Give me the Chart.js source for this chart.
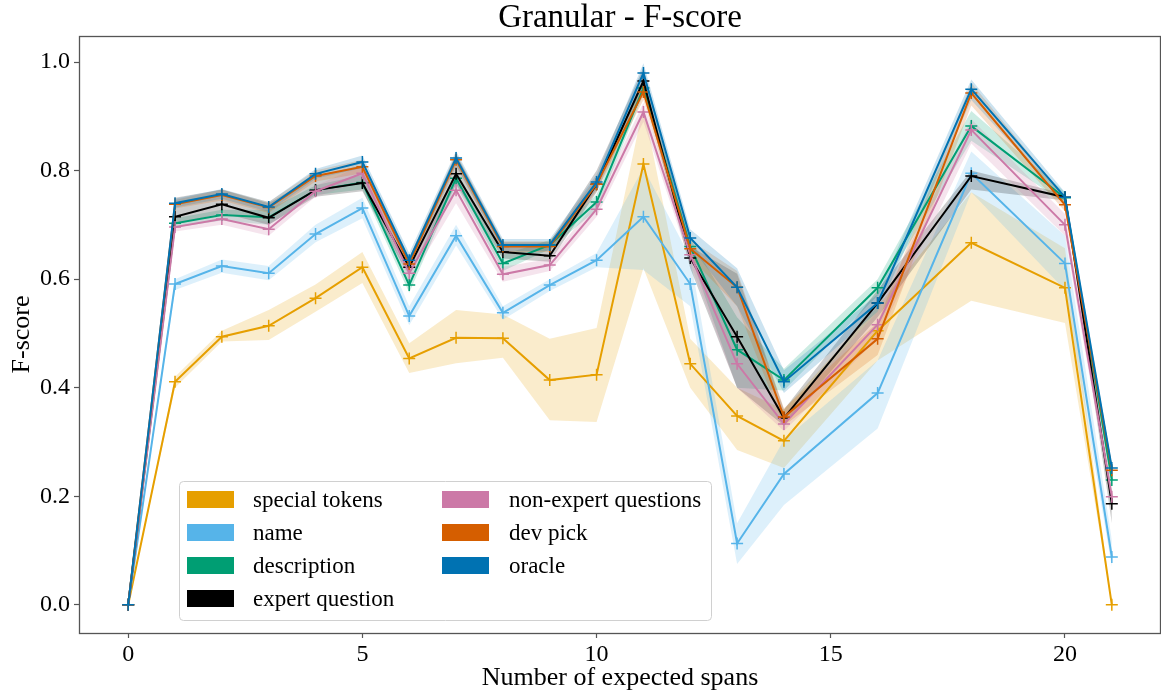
<!DOCTYPE html>
<html>
<head>
<meta charset="utf-8">
<script src="https://cdn.jsdelivr.net/npm/chart.js@4/dist/chart.umd.min.js"></script>
<style>
  html, body { margin: 0; padding: 0; background: #fff; }
  #wrap { width: 1161px; height: 695px; }
</style>
</head>
<body>
<div id="wrap"><canvas id="chart" width="1161" height="695"></canvas></div>
<script>
// x positions (number of expected spans)
const spans = [0, 1, 2, 3, 4, 5, 6, 7, 8, 9, 10, 11, 12, 13, 14, 16, 18, 20, 21];
const xTicks = [0, 5, 10, 15, 20];
const yTicks = [0, 0.2, 0.4, 0.6, 0.8, 1.0];

const seriesNames = ['special tokens', 'name', 'description', 'expert question', 'non-expert questions', 'dev pick', 'oracle'];
const seriesColors = ['#E69F00', '#56B4E9', '#009E73', '#000000', '#CC79A7', '#D55E00', '#0072B2'];

const specialTokens = [0, 0.411, 0.494, 0.514, 0.565, 0.622, 0.454, 0.492, 0.491, 0.414, 0.424, 0.812, 0.444, 0.348, 0.302, 0.505, 0.667, 0.584, 0.0];
const specialTokensLow = [0, 0.400, 0.485, 0.488, 0.540, 0.593, 0.427, 0.445, 0.455, 0.340, 0.337, 0.620, 0.400, 0.285, 0.252, 0.450, 0.560, 0.519, 0];
const specialTokensHigh = [0, 0.420, 0.505, 0.543, 0.590, 0.650, 0.482, 0.543, 0.535, 0.490, 0.510, 0.920, 0.490, 0.400, 0.360, 0.550, 0.760, 0.657, 0];

const nameScore = [0, 0.591, 0.624, 0.611, 0.683, 0.731, 0.532, 0.680, 0.538, 0.589, 0.635, 0.715, 0.591, 0.113, 0.241, 0.390, 0.795, 0.629, 0.088];
const nameLow = [0, 0.580, 0.612, 0.598, 0.668, 0.712, 0.515, 0.662, 0.525, 0.578, 0.622, 0.617, 0.550, 0.075, 0.184, 0.325, 0.760, 0.580, 0.070];
const nameHigh = [0, 0.600, 0.636, 0.624, 0.700, 0.750, 0.550, 0.700, 0.550, 0.600, 0.648, 0.805, 0.640, 0.150, 0.304, 0.450, 0.835, 0.680, 0.120];

const description = [0, 0.703, 0.718, 0.714, 0.764, 0.778, 0.589, 0.786, 0.629, 0.663, 0.742, 0.952, 0.660, 0.470, 0.414, 0.584, 0.882, 0.750, 0.230];
const descriptionLow = [0, 0.695, 0.708, 0.700, 0.755, 0.765, 0.575, 0.772, 0.615, 0.655, 0.728, 0.940, 0.645, 0.400, 0.395, 0.570, 0.855, 0.740, 0.215];
const descriptionHigh = [0, 0.712, 0.728, 0.728, 0.773, 0.792, 0.603, 0.800, 0.645, 0.672, 0.756, 0.964, 0.675, 0.530, 0.435, 0.600, 0.910, 0.760, 0.245];

const expertQuestion = [0, 0.715, 0.738, 0.713, 0.764, 0.777, 0.622, 0.794, 0.650, 0.643, 0.775, 0.965, 0.639, 0.494, 0.344, 0.556, 0.790, 0.751, 0.186];
const expertQuestionLow = [0, 0.700, 0.722, 0.700, 0.752, 0.762, 0.605, 0.775, 0.638, 0.632, 0.760, 0.950, 0.620, 0.400, 0.330, 0.530, 0.765, 0.745, 0.150];
const expertQuestionHigh = [0, 0.750, 0.765, 0.740, 0.790, 0.810, 0.640, 0.830, 0.668, 0.668, 0.800, 0.990, 0.660, 0.610, 0.360, 0.580, 0.800, 0.757, 0.210];

const nonExpert = [0, 0.696, 0.711, 0.692, 0.762, 0.795, 0.611, 0.764, 0.609, 0.626, 0.729, 0.908, 0.645, 0.444, 0.333, 0.516, 0.875, 0.700, 0.199];
const nonExpertLow = [0, 0.688, 0.700, 0.680, 0.752, 0.780, 0.595, 0.740, 0.595, 0.615, 0.715, 0.890, 0.630, 0.400, 0.320, 0.490, 0.850, 0.680, 0.185];
const nonExpertHigh = [0, 0.705, 0.722, 0.705, 0.772, 0.810, 0.627, 0.785, 0.623, 0.637, 0.743, 0.925, 0.660, 0.490, 0.350, 0.540, 0.895, 0.720, 0.213];

const devPick = [0, 0.738, 0.755, 0.732, 0.790, 0.807, 0.628, 0.820, 0.660, 0.660, 0.775, 0.945, 0.656, 0.585, 0.346, 0.490, 0.943, 0.737, 0.248];
const devPickLow = [0, 0.730, 0.745, 0.722, 0.780, 0.795, 0.615, 0.808, 0.650, 0.650, 0.762, 0.930, 0.640, 0.550, 0.330, 0.460, 0.920, 0.725, 0.238];
const devPickHigh = [0, 0.746, 0.765, 0.742, 0.800, 0.820, 0.640, 0.832, 0.670, 0.670, 0.788, 0.960, 0.672, 0.615, 0.362, 0.520, 0.962, 0.750, 0.256];

const oracle = [0, 0.740, 0.757, 0.733, 0.794, 0.816, 0.635, 0.823, 0.663, 0.663, 0.779, 0.980, 0.676, 0.585, 0.411, 0.556, 0.950, 0.751, 0.252];
const oracleLow = [0, 0.732, 0.748, 0.724, 0.785, 0.805, 0.622, 0.810, 0.652, 0.652, 0.765, 0.960, 0.660, 0.550, 0.390, 0.540, 0.930, 0.742, 0.245];
const oracleHigh = [0, 0.748, 0.766, 0.742, 0.803, 0.828, 0.648, 0.836, 0.674, 0.674, 0.793, 0.998, 0.692, 0.620, 0.432, 0.572, 0.968, 0.760, 0.260];

const means = [specialTokens, nameScore, description, expertQuestion, nonExpert, devPick, oracle];
const lows = [specialTokensLow, nameLow, descriptionLow, expertQuestionLow, nonExpertLow, devPickLow, oracleLow];
const highs = [specialTokensHigh, nameHigh, descriptionHigh, expertQuestionHigh, nonExpertHigh, devPickHigh, oracleHigh];

const FONT = "'Liberation Serif', 'DejaVu Serif', serif";

function toPoints(vals) {
  return vals.map((v, i) => ({ x: spans[i], y: v }));
}

function hexAlpha(hex, a) {
  const n = parseInt(hex.slice(1), 16);
  return `rgba(${(n >> 16) & 255}, ${(n >> 8) & 255}, ${n & 255}, ${a})`;
}

// bands first (upper filled down to lower), then the lines
const datasets = [];
seriesNames.forEach((name, i) => {
  datasets.push({
    label: name + ' high',
    data: toPoints(highs[i]),
    borderWidth: 0,
    pointRadius: 0,
    backgroundColor: hexAlpha(seriesColors[i], 0.2),
    fill: '+1',
    order: 100 + (6 - i)
  });
  datasets.push({
    label: name + ' low',
    data: toPoints(lows[i]),
    borderWidth: 0,
    pointRadius: 0,
    fill: false,
    order: 100 + (6 - i)
  });
});
seriesNames.forEach((name, i) => {
  datasets.push({
    label: name,
    data: toPoints(means[i]),
    borderColor: seriesColors[i],
    backgroundColor: seriesColors[i],
    borderWidth: 2,
    pointStyle: 'cross',
    pointRadius: 6,
    pointBorderWidth: 1.5,
    pointBorderColor: seriesColors[i],
    fill: false,
    order: 6 - i
  });
});

// box around the axes + title centred over the plot area (like matplotlib)
const framePlugin = {
  id: 'frame',
  afterDraw(chart) {
    const a = chart.chartArea;
    const ctx = chart.ctx;
    ctx.save();
    ctx.strokeStyle = '#555';
    ctx.lineWidth = 1.3;
    ctx.strokeRect(a.left + 0.5, a.top + 0.5, a.right - a.left - 1, a.bottom - a.top);
    ctx.fillStyle = '#000';
    ctx.font = '33px ' + FONT;
    ctx.textAlign = 'center';
    ctx.textBaseline = 'middle';
    ctx.fillText('Granular - F-score', (a.left + a.right) / 2, 18);
    ctx.restore();
  }
};

const legendPlugin = {
  id: 'boxLegend',
  afterDraw(chart) {
    const ctx = chart.ctx;
    const box = { x: 179, y: 481, w: 532, h: 139 };
    ctx.save();
    ctx.fillStyle = 'rgba(255,255,255,0.85)';
    ctx.strokeStyle = '#d0d0d0';
    ctx.lineWidth = 1;
    ctx.beginPath();
    ctx.roundRect(box.x + 0.5, box.y + 0.5, box.w, box.h, 4);
    ctx.fill();
    ctx.stroke();
    ctx.font = '23px ' + FONT;
    ctx.textBaseline = 'middle';
    const cols = [{ px: 187, tx: 253 }, { px: 442, tx: 509 }];
    seriesNames.forEach((name, i) => {
      const col = i < 4 ? 0 : 1;
      const row = i < 4 ? i : i - 4;
      const cy = 499.5 + row * 33;
      ctx.fillStyle = seriesColors[i];
      ctx.fillRect(cols[col].px, cy - 8.5, 47, 17);
      ctx.fillStyle = '#000';
      ctx.fillText(name, cols[col].tx, cy + 1);
    });
    ctx.restore();
  }
};

new Chart(document.getElementById('chart'), {
  type: 'line',
  data: { datasets },
  options: {
    responsive: false,
    animation: false,
    layout: { padding: { top: 36, left: 0, right: 0, bottom: 0 }, autoPadding: false },
    plugins: {
      legend: { display: false },
      tooltip: { enabled: false },
      filler: { propagate: false },
      title: { display: false }
    },
    scales: {
      x: {
        type: 'linear',
        min: -1.05,
        max: 22.05,
        afterBuildTicks: scale => { scale.ticks = xTicks.map(v => ({ value: v })); },
        afterFit: scale => { scale.height = 62; },
        grid: { drawOnChartArea: false, drawTicks: true, tickLength: 5, color: '#555', tickWidth: 1.2 },
        border: { display: false },
        ticks: { color: '#000', font: { family: FONT, size: 24 }, padding: 2, maxRotation: 0 },
        title: {
          display: true,
          text: 'Number of expected spans',
          color: '#000',
          font: { family: FONT, size: 26 },
          padding: { top: 0, bottom: 1 }
        }
      },
      y: {
        min: -0.052,
        max: 1.048,
        afterBuildTicks: scale => { scale.ticks = yTicks.map(v => ({ value: v })); },
        afterFit: scale => { scale.width = 79; },
        grid: { drawOnChartArea: false, drawTicks: true, tickLength: 5, color: '#555', tickWidth: 1.2 },
        border: { display: false },
        ticks: {
          color: '#000',
          font: { family: FONT, size: 24 },
          padding: 4,
          callback: v => v.toFixed(1)
        },
        title: {
          display: true,
          text: 'F-score',
          color: '#000',
          font: { family: FONT, size: 26 },
          padding: { top: 7, bottom: 0 }
        }
      }
    }
  },
  plugins: [framePlugin, legendPlugin]
});
</script>
</body>
</html>
